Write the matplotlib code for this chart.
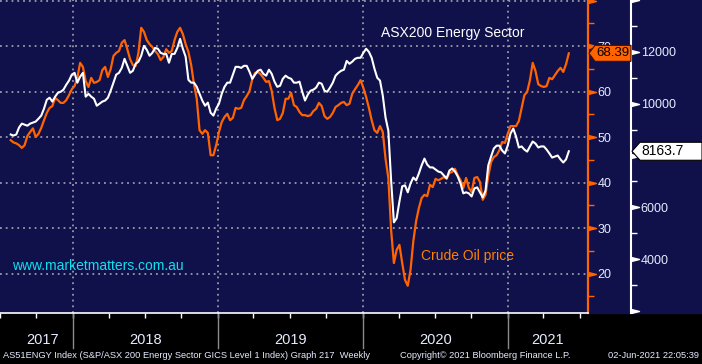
import matplotlib
matplotlib.use('Agg')
import matplotlib.pyplot as plt
import matplotlib.transforms as mtransforms
from matplotlib.patches import Polygon, Rectangle
import pandas as pd

# weekly closes
dates = pd.date_range('2017-07-28', '2021-06-04', freq='7D')

crude = [
    49.3, 48.8, 48.6, 48.2, 47.6, 48.2, 50.2, 51.1, 51.9, 50.0,
    50.7, 52.0, 53.7, 55.3, 56.4, 56.8, 58.6, 58.1, 57.5, 57.5,
    58.1, 59.2, 60.5, 61.2, 63.0, 66.3, 65.4, 62.3, 61.0, 63.0,
    61.9, 62.1, 62.5, 64.7, 65.4, 63.2, 64.9, 67.8, 68.5, 68.9,
    70.7, 71.3, 69.3, 67.1, 65.8, 65.6, 68.5, 74.0, 73.1, 71.3,
    70.4, 69.8, 68.9, 68.2, 66.9, 67.6, 69.3, 68.5, 68.9, 71.3,
    73.1, 74.0, 72.6, 70.4, 68.7, 65.8, 61.6, 58.4, 51.5, 50.7,
    51.5, 50.9, 46.0, 46.0, 48.2, 51.1, 53.3, 54.4, 55.1, 53.7,
    54.2, 56.4, 56.2, 56.4, 58.1, 59.0, 60.1, 62.7, 64.1, 64.3,
    63.8, 63.0, 62.1, 62.3, 60.1, 56.4, 53.7, 54.0, 55.3, 58.4,
    58.4, 59.7, 57.0, 56.6, 55.5, 54.8, 54.8, 54.6, 54.8, 55.7,
    56.2, 57.5, 56.8, 54.6, 54.0, 54.4, 55.3, 56.6, 57.0, 57.5,
    57.7, 57.0, 57.3, 59.5, 60.5, 61.4, 62.5, 60.8, 58.8, 56.4,
    53.7, 51.5, 50.9, 52.4, 51.1, 45.2, 41.0, 29.6, 22.3, 25.2,
    26.3, 22.3, 18.6, 17.3, 20.8, 27.1, 31.5, 34.4, 36.6, 37.3,
    37.0, 39.5, 39.0, 40.8, 40.5, 40.8, 41.2, 40.8, 42.1, 42.3,
    43.0, 41.6, 40.5, 38.8, 41.0, 38.8, 37.9, 41.0, 41.2, 40.1,
    36.2, 37.3, 41.4, 44.5, 45.6, 46.0, 47.1, 48.9, 48.7, 50.7,
    52.4, 52.4, 52.4, 53.5, 56.4, 59.2, 59.9, 62.5, 66.3, 64.5,
    61.6, 61.2, 61.0, 61.2, 63.0, 62.7, 63.6, 64.5, 65.2, 64.3,
    66.0, 68.39,
]

asx = [
    8810, 8770, 8810, 9080, 9230, 9190, 9150, 9230, 9270, 9310,
    9420, 9540, 9810, 10150, 10230, 10080, 10270, 10420, 10460, 10540,
    10730, 10890, 11120, 11190, 10810, 11040, 11190, 10270, 10380, 10270,
    10190, 9920, 10000, 10080, 10120, 10230, 10500, 10810, 11120, 11190,
    11380, 11730, 11460, 11190, 11270, 11540, 11620, 11850, 12230, 12080,
    11850, 11960, 12150, 12120, 11960, 11920, 11920, 11580, 11920, 11920,
    12150, 12500, 12120, 11810, 10920, 10810, 10810, 10650, 10380, 10120,
    9920, 10040, 9650, 9540, 9810, 10000, 10380, 10650, 10810, 10810,
    11120, 11420, 11420, 11380, 11460, 11460, 11230, 10960, 11120, 11270,
    11310, 11150, 11080, 11310, 11150, 10850, 10650, 10690, 10960, 11080,
    11000, 10960, 10810, 10810, 10850, 10460, 10120, 10350, 10500, 10540,
    10620, 10810, 10770, 10500, 10460, 10620, 10810, 11080, 11190, 11270,
    11310, 11650, 11540, 11620, 11730, 11770, 11770, 11960, 12120, 12000,
    11770, 11350, 11000, 10890, 10310, 9460, 8960, 7040, 5420, 5580,
    6230, 6810, 6850, 6580, 6920, 7150, 7040, 7310, 7620, 7880,
    7650, 7540, 7540, 7460, 7380, 7350, 7230, 7120, 7420, 7500,
    7380, 7190, 6920, 6540, 6580, 6540, 6420, 6730, 6770, 6580,
    6380, 6650, 7620, 7960, 8270, 8380, 8380, 8190, 8080, 8380,
    8850, 9040, 8730, 8310, 8350, 8230, 8150, 8350, 8540, 8460,
    8310, 8350, 8350, 8230, 8080, 7920, 7960, 8000, 7850, 7730,
    7850, 8163.7,
]

years = ['2017', '2018', '2019', '2020', '2021']
crude_major = [20, 30, 40, 50, 60, 70, 80]
crude_minor = [15, 25, 35, 45, 55, 65, 75]
asx_major = [2000, 4000, 6000, 8000, 10000, 12000, 14000]
asx_labels = ['', '4000', '6000', '', '10000', '12000', '']
asx_minor = [3000, 5000, 7000, 9000, 11000, 13000]

navy = '#10104a'
orange = '#ff6400'
lbl = '#e6ecff'
sans = ['Liberation Sans', 'DejaVu Sans']
W, H = 702, 364

fig = plt.figure(figsize=(W / 100, H / 100), dpi=100, facecolor='black')
ax = fig.add_axes([0, 51 / H, 588 / W, 313 / H], facecolor=navy)
fig.patches.append(Rectangle((588 / W, 51 / H), 114 / W, 313 / H,
                             transform=fig.transFigure, color=navy, zorder=-5))

# x scale: 148 px per year, 2018 starts at x=62
px_day = 148 / 365.25
x0 = pd.Timestamp('2018-01-01') - pd.Timedelta(days=62 / px_day)
x1 = pd.Timestamp('2021-01-01') + pd.Timedelta(days=82 / px_day)
ax.set_xlim(x0, x1)
ax.set_ylim(11.32, 80.11)

ax.plot(dates, crude, color=orange, lw=1.6, zorder=3)

ax2 = ax.twinx()
ax2.set_ylim(1923, 13961)
ax2.plot(dates, asx, color='white', lw=1.5, zorder=3)
ax2.patch.set_visible(False)

# grid
for v in crude_major:
    ax.axhline(v, color='#9a9aa8', lw=1.3, ls=(0, (1, 2.2)), zorder=1)
ystarts = [pd.Timestamp(y + '-01-01') for y in years[1:]]
for d in ystarts:
    ax.axvline(d, color='#9a9aa8', lw=1.3, ls=(0, (1, 2.2)), zorder=1)

# spines
for s in ['top', 'left']:
    ax.spines[s].set_visible(False)
    ax2.spines[s].set_visible(False)
ax2.spines['bottom'].set_visible(False)
ax.spines['bottom'].set_color('white')
ax.spines['bottom'].set_linewidth(1.2)
ax.spines['right'].set_color(orange)
ax.spines['right'].set_linewidth(1.6)
ax2.spines['right'].set_position(('axes', 631 / 588))
ax2.spines['right'].set_color('white')
ax2.spines['right'].set_linewidth(1.5)

# crude axis ticks
ax.yaxis.tick_right()
ax.set_yticks(crude_major)
ax.set_yticklabels([str(v) if v < 80 else '' for v in crude_major])
ax.set_yticks(crude_minor, minor=True)
ax.tick_params(axis='y', which='major', length=0, pad=7, labelsize=9, labelcolor=lbl)
ax.tick_params(axis='y', which='minor', length=4, width=1, color=orange, direction='out')

ax2.set_yticks(asx_major)
ax2.set_yticklabels(asx_labels)
ax2.set_yticks(asx_minor, minor=True)
ax2.tick_params(axis='y', which='major', length=0, pad=7, labelsize=9, labelcolor=lbl)
ax2.tick_params(axis='y', which='minor', length=4, width=1, color='white', direction='out')

tri = [(0, -1), (4, 0), (0, 1)]
bt = mtransforms.blended_transform_factory(ax.transAxes, ax.transData)
ax.plot([1.0] * len(crude_major), crude_major, ls='none', marker=tri, ms=11.5,
        color=orange, transform=bt, clip_on=False, zorder=5)
bt2 = mtransforms.blended_transform_factory(ax.transAxes, ax2.transData)
ax2.plot([631 / 588] * len(asx_major), asx_major, ls='none', marker=tri, ms=11.5,
         color='white', transform=bt2, clip_on=False, zorder=5)

for t in ax.get_yticklabels() + ax2.get_yticklabels():
    t.set_fontfamily(sans)

# x axis: quarter ticks, year separators and labels
ax.set_xticks(pd.date_range('2017-07-01', '2021-07-01', freq='QS'))
ax.set_xticklabels([])
ax.tick_params(axis='x', length=3.5, width=1, color='white', direction='out')
bx = mtransforms.blended_transform_factory(ax.transData, ax.transAxes)
for d in ystarts:
    ax.plot([d, d], [0, -35 / 313], color='#8a8a8a', lw=1, transform=bx, clip_on=False)
edges = [x0] + ystarts + [x1]
for i, y in enumerate(years):
    mid = edges[i] + (edges[i + 1] - edges[i]) / 2
    ax.text(mid, -27 / 313, y, transform=bx, ha='center', va='center',
            color=lbl, fontsize=10.5, family=sans)

# titles
fig.text(453 / W, (H - 33) / H, 'ASX200 Energy Sector', color='white', fontsize=10,
         ha='center', va='center', family=sans)
fig.text(467 / W, (H - 256) / H, 'Crude Oil price', color='#ff8200', fontsize=10,
         ha='center', va='center', family=sans)
fig.text(98 / W, (H - 266) / H, 'www.marketmatters.com.au', color='#10e0f0', fontsize=10,
         ha='center', va='center', family=sans)

# footer
fig.text(3 / W, 8 / H, 'AS51ENGY Index (S&P/ASX 200 Energy Sector GICS Level 1 Index) Graph 217  Weekly',
         color=lbl, fontsize=6.7, va='center', family=sans)
fig.text(400 / W, 8 / H, 'Copyright\u00a9 2021 Bloomberg Finance L.P.',
         color=lbl, fontsize=6.7, va='center', family=sans)
fig.text(699 / W, 8 / H, '02-Jun-2021 22:05:39',
         color=lbl, fontsize=6.7, va='center', ha='right', family=sans)

# last value tags
yc = ax.transData.transform((0, crude[-1]))[1]
pts = [(589, yc), (595, yc + 8), (631, yc + 8), (631, yc - 8), (595, yc - 8)]
fig.patches.append(Polygon([(x / W, y / H) for x, y in pts], closed=True, transform=fig.transFigure,
                           facecolor=orange, edgecolor='#401000', lw=0.8, zorder=6))
fig.text(613 / W, yc / H, f'{crude[-1]:.2f}', color='black', fontsize=9.5, ha='center',
         va='center', zorder=7, family=sans)

yc2 = ax2.transData.transform((0, asx[-1]))[1]
pts = [(632, yc2), (640, yc2 + 9), (702, yc2 + 9), (702, yc2 - 9), (640, yc2 - 9)]
fig.patches.append(Polygon([(x / W, y / H) for x, y in pts], closed=True, transform=fig.transFigure,
                           facecolor='white', edgecolor='black', lw=0.8, zorder=6))
fig.text(641 / W, yc2 / H, f'{asx[-1]:.1f}', color='black', fontsize=10, ha='left',
         va='center', zorder=7, family=sans)

fig.savefig('out.png', dpi=100, facecolor='black')
